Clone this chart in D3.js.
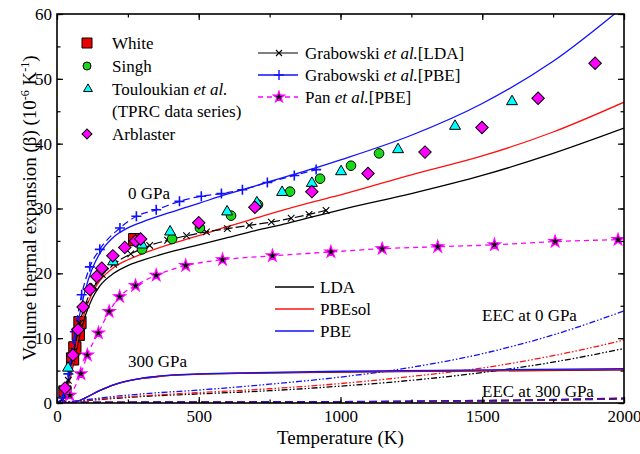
<!DOCTYPE html>
<html><head><meta charset="utf-8">
<script src="https://cdn.jsdelivr.net/npm/d3@7"></script>
<style>body{margin:0;background:#fff}</style>
</head><body><svg id="c" width="640" height="454"></svg>
<script>
// ---------- data ----------
const xTicks = [0, 500, 1000, 1500, 2000];
const yTicks = [0, 10, 20, 30, 40, 50, 60];

// present calculations, 0 GPa
const lda0 = [[0,0],[25,0.8],[50,4.5],[75,9.5],[100,13.5],[125,16.2],[150,18],[200,20],[250,21.2],[300,22],[400,23.3],[500,24.4],[600,25.5],[700,26.6],[800,27.6],[900,28.7],[1000,29.8],[1250,32.3],[1500,35.1],[1750,38.5],[2000,42.4]];
const pbesol0 = [[0,0],[25,0.9],[50,4.8],[75,10.2],[100,14.3],[125,17],[150,18.8],[200,20.9],[250,22.1],[300,23],[400,24.5],[500,25.8],[600,27.2],[700,28.5],[800,29.8],[900,31],[1000,32.1],[1250,35.2],[1500,38.1],[1750,41.8],[2000,46.4]];
const pbe0 = [[0,0],[25,1.1],[50,6],[75,12.5],[100,17.5],[125,20.8],[150,23],[200,25.6],[250,27],[300,27.9],[400,29.4],[500,30.8],[600,32.2],[700,33.5],[800,34.8],[900,36.1],[1000,37.5],[1250,41.3],[1500,46.2],[1750,52.7],[2000,61.2]];
// 300 GPa
const lda300 = [[0,0],[50,0.05],[75,0.3],[100,0.8],[150,1.9],[200,2.8],[250,3.4],[300,3.8],[350,4.05],[400,4.25],[500,4.45],[700,4.6],[1000,4.75],[1500,4.95],[2000,5.1]];
const pbesol300 = [[0,0],[50,0.05],[75,0.3],[100,0.8],[150,1.9],[200,2.8],[250,3.4],[300,3.8],[350,4.05],[400,4.25],[500,4.45],[700,4.65],[1000,4.8],[1500,5.0],[2000,5.15]];
const pbe300 = [[0,0],[50,0.05],[75,0.3],[100,0.8],[150,1.9],[200,2.8],[250,3.4],[300,3.85],[350,4.1],[400,4.3],[500,4.5],[700,4.7],[1000,4.9],[1500,5.1],[2000,5.3]];
// electronic excitation contribution (EEC)
const eecLda0 = [[0,0],[100,0.35],[200,0.7],[300,1.0],[500,1.4],[750,1.9],[1000,2.6],[1250,3.5],[1500,4.7],[1750,6.3],[2000,8.4]];
const eecPbesol0 = [[0,0],[100,0.4],[200,0.8],[300,1.1],[500,1.6],[750,2.2],[1000,3.0],[1250,4.1],[1500,5.4],[1750,7.3],[2000,9.7]];
const eecPbe0 = [[0,0],[100,0.5],[200,1.0],[300,1.4],[500,2.0],[750,2.9],[1000,4.0],[1250,5.5],[1500,7.6],[1750,10.5],[2000,14.2]];
const eecLda300 = [[0,0],[100,0.06],[500,0.1],[1000,0.15],[1250,0.22],[1500,0.31],[1750,0.45],[2000,0.65]];
const eecPbesol300 = [[0,0],[100,0.08],[500,0.12],[1000,0.17],[1250,0.25],[1500,0.34],[1750,0.48],[2000,0.7]];
const eecPbe300 = [[0,0],[100,0.1],[500,0.15],[1000,0.2],[1250,0.28],[1500,0.38],[1750,0.52],[2000,0.75]];
// literature calculations
const grabLda = [[20,0.6],[40,3.5],[60,8],[80,12.3],[100,15.2],[130,18],[160,19.8],[200,21.4],[260,23],[327,24.3],[390,25.1],[457,25.8],[527,26.4],[601,26.9],[678,27.4],[756,27.9],[826,28.5],[889,29.1],[949,29.7]];
const grabPbe = [[20,0.8],[40,4.5],[63,11],[87,16.7],[116,21.0],[151,23.7],[222,27.0],[280,28.8],[350,29.8],[432,31.1],[509,31.9],[580,32.3],[654,32.9],[742,34.0],[837,35.1],[914,36.0]];
const panPbe = [[20,0.1],[45,1.2],[84,4.5],[107,7.4],[146,10.8],[184,14.1],[221,16.4],[277,18.1],[350,19.7],[454,21.2],[584,22.1],[760,22.7],[966,23.3],[1147,23.8],[1343,24.1],[1543,24.4],[1757,24.9],[1979,25.2]];
// experiments
const white = [[28,1.7],[55,6.8],[63,8.5],[75,10.6],[81,12.4],[274,25.2]];
const singh = [[300,23.7],[406,25.3],[504,27.0],[614,28.9],[709,30.6],[822,32.6],[928,34.6],[1037,36.6],[1136,38.5]];
const touloukian = [[39,5.4],[198,21.8],[300,24.4],[399,26.4],[600,29.5],[705,30.9],[794,32.5],[899,33.9],[1002,35.7],[1203,39.1],[1404,42.7],[1605,46.5]];
const arblaster = [[28,2.3],[56,7.4],[74,11.3],[92,14.8],[116,17.5],[140,19.5],[158,20.8],[197,22.7],[239,24.0],[277,25.0],[295,25.3],[500,27.8],[698,30.2],[899,32.6],[1097,35.4],[1298,38.7],[1499,42.5],[1697,47.0],[1898,52.4]];

// ---------- drawing ----------
const FONT = '"Liberation Serif"';
const BLUE = "#1010ff", RED = "#ff1010", MAG = "#ff00ff", GREEN = "#18d818", CYAN = "#00ffff";
const svg = d3.select("#c").attr("font-family", FONT);
const L = 57, R = 624, T = 14, B = 403;
const x = d3.scaleLinear().domain([0, 2000]).range([L, R]);
const y = d3.scaleLinear().domain([0, 60]).range([B, T]);

svg.append("clipPath").attr("id", "clip").append("rect")
  .attr("x", L).attr("y", T).attr("width", R - L).attr("height", B - T);
const plot = svg.append("g").attr("clip-path", "url(#clip)");

const line = d3.line().x(d => x(d[0])).y(d => y(d[1])).curve(d3.curveMonotoneX);
function drawLine(g, data, color, dash, w) {
  g.append("path").datum(data).attr("d", line).attr("fill", "none")
    .attr("stroke", color).attr("stroke-width", w || 1.3)
    .attr("stroke-dasharray", dash || null);
}

// White squares beneath curves
plot.append("g").selectAll("path").data(white).join("path")
  .attr("d", d3.symbol(d3.symbolSquare, 150)())
  .attr("transform", d => `translate(${x(d[0])},${y(d[1])})`)
  .attr("fill", "#ee0000").attr("stroke", "#000").attr("stroke-width", 1);

const DD = "6,2,1.5,2,1.5,2";
drawLine(plot, eecLda300, "#000", "8,4", 1.6);
drawLine(plot, eecPbesol300, RED, "8,4", 1.6);
drawLine(plot, eecPbe300, "#3010c0", "8,4", 1.6);
drawLine(plot, eecLda0, "#000", DD, 1.3);
drawLine(plot, eecPbesol0, RED, DD, 1.3);
drawLine(plot, eecPbe0, BLUE, DD, 1.3);
drawLine(plot, lda300, "#000");
drawLine(plot, pbesol300, RED);
drawLine(plot, pbe300, BLUE);
drawLine(plot, lda0, "#000");
drawLine(plot, pbesol0, RED);
drawLine(plot, pbe0, BLUE);

// literature curves
drawLine(plot, grabLda, "#000", "9,3", 1.2);
drawLine(plot, grabPbe, BLUE, "7,4", 1.3);
drawLine(plot, panPbe, MAG, "5,4", 1.3);

const crossPath = s => `M${-s},${-s}L${s},${s}M${-s},${s}L${s},${-s}`;
const plusPath = s => `M${-s},0L${s},0M0,${-s}L0,${s}`;
plot.append("g").selectAll("path").data(grabLda).join("path")
  .attr("d", crossPath(3.3)).attr("transform", d => `translate(${x(d[0])},${y(d[1])})`)
  .attr("stroke", "#000").attr("stroke-width", 1.1).attr("fill", "none");
plot.append("g").selectAll("path").data(grabPbe).join("path")
  .attr("d", plusPath(5)).attr("transform", d => `translate(${x(d[0])},${y(d[1])})`)
  .attr("stroke", BLUE).attr("stroke-width", 1.6).attr("fill", "none");
plot.append("g").selectAll("path").data(panPbe.slice(1)).join("path")
  .attr("d", d3.symbol(d3.symbolStar, 42)())
  .attr("transform", d => `translate(${x(d[0])},${y(d[1])})`)
  .attr("fill", "#000").attr("stroke", MAG).attr("stroke-width", 1.3);

// experimental symbols
plot.append("g").selectAll("circle").data(singh).join("circle")
  .attr("cx", d => x(d[0])).attr("cy", d => y(d[1])).attr("r", 4.8)
  .attr("fill", GREEN).attr("stroke", "#000").attr("stroke-width", 1);
plot.append("g").selectAll("path").data(touloukian).join("path")
  .attr("d", d3.symbol(d3.symbolTriangle, 52)())
  .attr("transform", d => `translate(${x(d[0])},${y(d[1])})`)
  .attr("fill", CYAN).attr("stroke", "#000").attr("stroke-width", 1);
plot.append("g").selectAll("path").data(arblaster).join("path")
  .attr("d", d3.symbol(d3.symbolSquare, 78)())
  .attr("transform", d => `translate(${x(d[0])},${y(d[1])}) rotate(45)`)
  .attr("fill", MAG).attr("stroke", "#000").attr("stroke-width", 1);

// ---------- axes ----------
const ax = svg.append("g");
function styleAxis(g) {
  g.attr("font-family", FONT).attr("font-size", 17);
  g.select(".domain").remove();
  g.selectAll("line").attr("stroke", "#000").attr("stroke-width", 1.2);
  g.selectAll("text").attr("fill", "#000");
}
const xMinor = d3.range(0, 2001, 250);
const yMinor = d3.range(0, 61, 5);
ax.append("g").attr("transform", `translate(0,${B})`)
  .call(d3.axisBottom(x).tickValues(xTicks).tickSize(-6).tickPadding(7).tickFormat(d3.format("d"))).call(styleAxis);
ax.append("g").attr("transform", `translate(0,${B})`)
  .call(d3.axisBottom(x).tickValues(xMinor).tickSize(-3.5).tickFormat("")).call(styleAxis);
ax.append("g").attr("transform", `translate(0,${T})`)
  .call(d3.axisTop(x).tickValues(xTicks).tickSize(-6).tickFormat("")).call(styleAxis);
ax.append("g").attr("transform", `translate(0,${T})`)
  .call(d3.axisTop(x).tickValues(xMinor).tickSize(-3.5).tickFormat("")).call(styleAxis);
ax.append("g").attr("transform", `translate(${L},0)`)
  .call(d3.axisLeft(y).tickValues(yTicks).tickSize(-6).tickPadding(5).tickFormat(d3.format("d"))).call(styleAxis);
ax.append("g").attr("transform", `translate(${L},0)`)
  .call(d3.axisLeft(y).tickValues(yMinor).tickSize(-3.5).tickFormat("")).call(styleAxis);
ax.append("g").attr("transform", `translate(${R},0)`)
  .call(d3.axisRight(y).tickValues(yTicks).tickSize(-6).tickFormat("")).call(styleAxis);
ax.append("g").attr("transform", `translate(${R},0)`)
  .call(d3.axisRight(y).tickValues(yMinor).tickSize(-3.5).tickFormat("")).call(styleAxis);
svg.append("rect").attr("x", L).attr("y", T).attr("width", R - L).attr("height", B - T)
  .attr("fill", "none").attr("stroke", "#000").attr("stroke-width", 1.6);

// axis titles
svg.append("text").attr("x", (L + R) / 2).attr("y", 444).attr("text-anchor", "middle")
  .attr("font-family", FONT).attr("font-size", 19).text("Temperature (K)");
const yt = svg.append("text").attr("transform", "translate(36,208) rotate(-90)")
  .attr("text-anchor", "middle").attr("font-family", FONT).attr("font-size", 19);
yt.append("tspan").text("Volume thermal expansion (β) (10");
yt.append("tspan").attr("dy", -7).attr("font-size", 12).text("-6");
yt.append("tspan").attr("dy", 7).text(" K");
yt.append("tspan").attr("dy", -7).attr("font-size", 12).text("-1");
yt.append("tspan").attr("dy", 7).text(")");

// annotations
function label(tx, ty, str) {
  svg.append("text").attr("x", tx).attr("y", ty).attr("font-family", FONT).attr("font-size", 17).text(str);
}
label(128, 199, "0 GPa");
label(128, 367, "300 GPa");
label(482, 321, "EEC at 0 GPa");
label(482, 397, "EEC at 300 GPa");

// ---------- legends ----------
const lg = svg.append("g").attr("font-family", FONT).attr("font-size", 17);
const lx = 87, ltx = 112;
lg.append("path").attr("d", d3.symbol(d3.symbolSquare, 100)()).attr("transform", `translate(${lx},43)`)
  .attr("fill", "#ee0000").attr("stroke", "#000");
lg.append("circle").attr("cx", lx).attr("cy", 66).attr("r", 4).attr("fill", GREEN).attr("stroke", "#000");
lg.append("path").attr("d", d3.symbol(d3.symbolTriangle, 34)()).attr("transform", `translate(${lx + 1},89)`)
  .attr("fill", CYAN).attr("stroke", "#000");
lg.append("path").attr("d", d3.symbol(d3.symbolSquare, 50)()).attr("transform", `translate(${lx},134) rotate(45)`)
  .attr("fill", MAG).attr("stroke", "#000");
function ltext(tx, ty, parts) {
  const t = lg.append("text").attr("x", tx).attr("y", ty).attr("dy", "0.35em");
  parts.forEach(p => t.append("tspan").attr("font-style", p[1] ? "italic" : null).text(p[0]));
}
ltext(ltx, 43, [["White"]]);
ltext(ltx, 66, [["Singh"]]);
ltext(ltx, 89, [["Touloukian "], ["et al.", 1]]);
ltext(ltx, 111, [["(TPRC data series)"]]);
ltext(ltx, 134, [["Arblaster"]]);

// literature legend
const rx0 = 258, rx1 = 298, rtx = 305;
lg.append("line").attr("x1", rx0).attr("x2", rx1).attr("y1", 53).attr("y2", 53).attr("stroke", "#000").attr("stroke-width", 1.2);
lg.append("path").attr("d", crossPath(3)).attr("transform", `translate(279,53)`).attr("stroke", "#000").attr("stroke-width", 1.1);
lg.append("line").attr("x1", rx0).attr("x2", rx1).attr("y1", 75).attr("y2", 75).attr("stroke", BLUE).attr("stroke-width", 1.3);
lg.append("path").attr("d", plusPath(5)).attr("transform", `translate(279,75)`).attr("stroke", BLUE).attr("stroke-width", 1.4);
lg.append("line").attr("x1", rx0).attr("x2", rx1).attr("y1", 97).attr("y2", 97).attr("stroke", MAG).attr("stroke-width", 1.3).attr("stroke-dasharray", "5,4");
lg.append("path").attr("d", d3.symbol(d3.symbolStar, 38)()).attr("transform", `translate(279,97)`)
  .attr("fill", "#000").attr("stroke", MAG).attr("stroke-width", 1.2);
ltext(rtx, 53, [["Grabowski "], ["et al.", 1], ["[LDA]"]]);
ltext(rtx, 75, [["Grabowski "], ["et al.", 1], ["[PBE]"]]);
ltext(rtx, 97, [["Pan "], ["et al.", 1], ["[PBE]"]]);

// functional legend
[["LDA", "#000", 287], ["PBEsol", RED, 309], ["PBE", BLUE, 331]].forEach(([n, c, yy]) => {
  lg.append("line").attr("x1", 275).attr("x2", 314).attr("y1", yy).attr("y2", yy).attr("stroke", c).attr("stroke-width", 1.3);
  ltext(320, yy, [[n]]);
});
</script></body></html>
